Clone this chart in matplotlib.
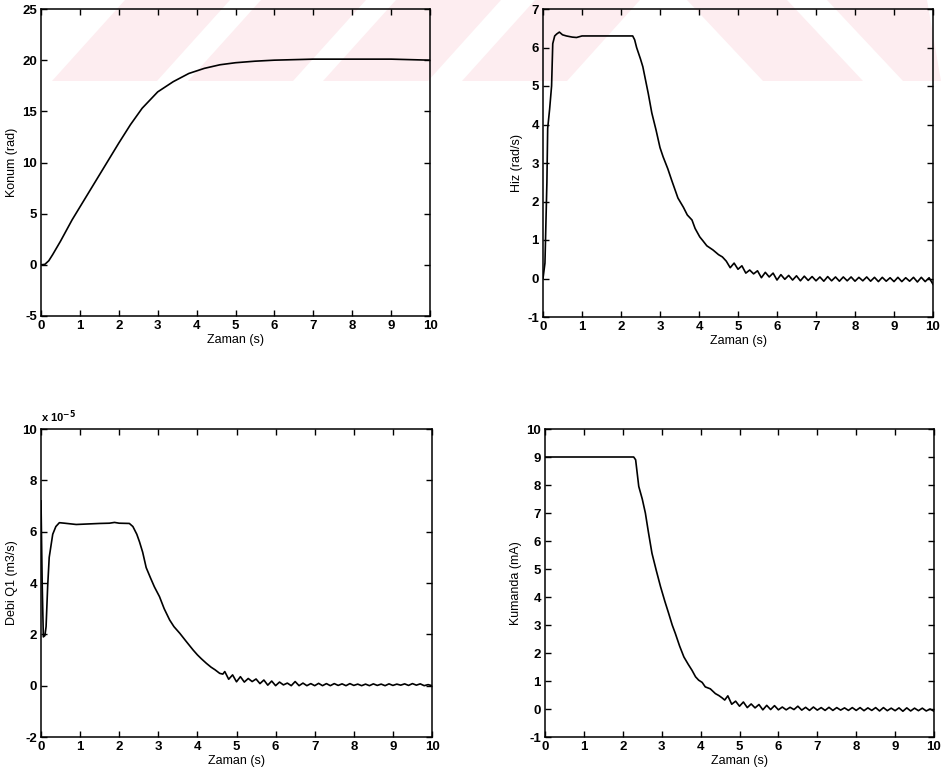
import matplotlib
matplotlib.use("Agg")
import matplotlib.pyplot as plt
from matplotlib.patches import Polygon
from matplotlib.ticker import FuncFormatter

plt.rcParams['font.family'] = ['Liberation Sans', 'DejaVu Sans']
plt.rcParams['font.weight'] = 'bold'
plt.rcParams['font.size'] = 9
plt.rcParams['axes.unicode_minus'] = False

# Konum (rad)
t_konum = [0, 0.1, 0.2, 0.3, 0.5, 0.8, 1.2, 1.6, 2.0, 2.3, 2.6, 3.0, 3.4, 3.8,
           4.2, 4.6, 5.0, 5.5, 6.0, 7.0, 8.0, 9.0, 10.0]
konum = [0, 0.05, 0.4, 1.0, 2.3, 4.4, 6.9, 9.4, 11.9, 13.7, 15.3, 16.9, 17.9, 18.7,
         19.2, 19.55, 19.75, 19.9, 20.0, 20.1, 20.1, 20.1, 20.0]

# Hiz (rad/s)
t_hiz = [0, 0.05, 0.1, 0.12, 0.17, 0.22, 0.25, 0.3, 0.35, 0.42, 0.5, 0.6, 0.75, 0.86,
         1.0, 1.5, 2.0, 2.3, 2.35, 2.4, 2.5, 2.56, 2.7, 2.79, 2.9, 3.0, 3.08, 3.2, 3.3,
         3.46, 3.6, 3.7, 3.82, 3.9, 4.02, 4.1, 4.2, 4.36, 4.5, 4.6,
         4.7, 4.8, 4.9, 5.0, 5.1, 5.2, 5.3, 5.4, 5.5, 5.6, 5.7, 5.8, 5.9, 6.0, 6.1, 6.2,
         6.3, 6.4, 6.5, 6.6, 6.7, 6.8, 6.9, 7.0, 7.1, 7.2, 7.3, 7.4, 7.5, 7.6, 7.7, 7.8,
         7.9, 8.0, 8.1, 8.2, 8.3, 8.4, 8.5, 8.6, 8.7, 8.8, 8.9, 9.0, 9.1, 9.2, 9.3, 9.4,
         9.5, 9.6, 9.7, 9.8, 9.9, 10.0]
hiz = [0, 0.4, 2.5, 3.9, 4.4, 5.0, 6.1, 6.3, 6.35, 6.4, 6.33, 6.3, 6.27, 6.26,
       6.3, 6.3, 6.3, 6.3, 6.2, 6.0, 5.7, 5.5, 4.8, 4.3, 3.85, 3.4, 3.16, 2.85, 2.55,
       2.09, 1.85, 1.65, 1.52, 1.3, 1.08, 0.98, 0.85, 0.74, 0.62, 0.56,
       0.45, 0.28, 0.40, 0.24, 0.33, 0.14, 0.22, 0.12, 0.20, 0.02, 0.16, 0.04, 0.14, -0.04, 0.10, -0.02,
       0.08, -0.04, 0.07, -0.06, 0.06, -0.05, 0.05, -0.06, 0.04, -0.07, 0.05, -0.06, 0.04, -0.07, 0.04, -0.06,
       0.04, -0.07, 0.03, -0.06, 0.04, -0.07, 0.03, -0.08, 0.03, -0.07, 0.02, -0.08, 0.03, -0.08, 0.02, -0.07,
       0.03, -0.09, 0.03, -0.08, 0.02, -0.15]

# Debi Q1 (x 1e-5 m3/s)
t_debi = [0, 0.03, 0.06, 0.1, 0.13, 0.17, 0.21, 0.3, 0.38, 0.47, 0.6, 0.9, 1.2, 1.5,
          1.75, 1.88, 2.0, 2.26, 2.35, 2.45, 2.52, 2.6, 2.69, 2.8, 2.9, 3.03, 3.15, 3.29,
          3.4, 3.55, 3.7, 3.89, 4.0, 4.1, 4.23, 4.35, 4.45, 4.57, 4.65,
          4.7, 4.8, 4.9, 5.0, 5.1, 5.2, 5.3, 5.4, 5.5, 5.6, 5.7, 5.8, 5.9, 6.0, 6.1, 6.2,
          6.3, 6.4, 6.5, 6.6, 6.7, 6.8, 6.9, 7.0, 7.1, 7.2, 7.3, 7.4, 7.5, 7.6, 7.7, 7.8,
          7.9, 8.0, 8.1, 8.2, 8.3, 8.4, 8.5, 8.6, 8.7, 8.8, 8.9, 9.0, 9.1, 9.2, 9.3, 9.4,
          9.5, 9.6, 9.7, 9.8, 9.9, 10.0]
debi = [7.2, 4.0, 1.9, 1.95, 2.3, 3.86, 5.0, 5.9, 6.2, 6.35, 6.33, 6.28, 6.3, 6.32,
        6.33, 6.36, 6.33, 6.32, 6.2, 5.9, 5.6, 5.2, 4.6, 4.2, 3.85, 3.47, 3.0, 2.56,
        2.3, 2.04, 1.75, 1.39, 1.2, 1.05, 0.87, 0.72, 0.62, 0.48, 0.45,
        0.55, 0.25, 0.42, 0.15, 0.35, 0.14, 0.28, 0.16, 0.26, 0.08, 0.22, 0.02, 0.18, 0.0, 0.14, 0.03,
        0.10, 0.0, 0.16, 0.0, 0.10, 0.0, 0.08, 0.0, 0.09, 0.0, 0.08, 0.0, 0.08, 0.01, 0.07, 0.0,
        0.08, 0.01, 0.06, 0.0, 0.06, 0.0, 0.07, 0.01, 0.06, 0.0, 0.07, 0.01, 0.06, 0.02, 0.07, 0.01,
        0.08, 0.02, 0.07, 0.0, 0.04, 0.0]
debi_scale = 1e-5

# Kumanda (mA)
t_kumanda = [0, 2.28, 2.33, 2.41, 2.5, 2.58, 2.66, 2.75, 2.86, 2.97, 3.08, 3.18, 3.27,
             3.35, 3.46, 3.57, 3.68, 3.78, 3.87, 3.95, 4.04, 4.12, 4.25, 4.38, 4.47, 4.55, 4.62,
             4.7, 4.8, 4.9, 5.0, 5.1, 5.2, 5.3, 5.4, 5.5, 5.6, 5.7, 5.8, 5.9, 6.0, 6.1, 6.2,
             6.3, 6.4, 6.5, 6.6, 6.7, 6.8, 6.9, 7.0, 7.1, 7.2, 7.3, 7.4, 7.5, 7.6, 7.7, 7.8,
             7.9, 8.0, 8.1, 8.2, 8.3, 8.4, 8.5, 8.6, 8.7, 8.8, 8.9, 9.0, 9.1, 9.2, 9.3, 9.4,
             9.5, 9.6, 9.7, 9.8, 9.9, 10.0]
kumanda = [9, 9, 8.9, 7.95, 7.5, 7.0, 6.3, 5.56, 4.95, 4.37, 3.85, 3.41, 3.0,
           2.7, 2.25, 1.86, 1.6, 1.38, 1.15, 1.03, 0.95, 0.79, 0.72, 0.55, 0.48, 0.40, 0.32,
           0.47, 0.17, 0.28, 0.10, 0.25, 0.05, 0.18, 0.04, 0.16, -0.03, 0.13, -0.02, 0.12, -0.03, 0.07, -0.03,
           0.06, -0.02, 0.10, -0.04, 0.06, -0.05, 0.07, -0.04, 0.05, -0.05, 0.06, -0.05, 0.05, -0.04, 0.04, -0.05,
           0.05, -0.05, 0.05, -0.06, 0.04, -0.05, 0.05, -0.07, 0.05, -0.06, 0.03, -0.06, 0.04, -0.08, 0.04, -0.07,
           0.03, -0.06, 0.03, -0.07, 0.0, -0.08]

x_ticks = list(range(0, 11))

W, H = 941, 773
fig = plt.figure(figsize=(W / 100, H / 100), dpi=100)
fig.patch.set_facecolor('white')

# faint pink watermark stripes (figure pixels, y down), kept behind the axes
pink = '#fdedf0'
band = 81
for xb in [52, 188, 323, 462]:
    pts = [(xb, band), (xb + 105, band), (xb + 105 + 73, 0), (xb + 73, 0)]
    fig.patches.append(Polygon([(x / W, 1 - y / H) for x, y in pts], closed=True,
                               transform=fig.transFigure, facecolor=pink,
                               edgecolor='none', zorder=-5))
for xt in [687, 827]:
    pts = [(xt, 0), (min(xt + 100, W), 0), (min(xt + 176, W), band), (min(xt + 76, W), band)]
    fig.patches.append(Polygon([(x / W, 1 - y / H) for x, y in pts], closed=True,
                               transform=fig.transFigure, facecolor=pink,
                               edgecolor='none', zorder=-5))


def px_rect(l, t, r, b):
    return [l / W, 1 - b / H, (r - l) / W, (b - t) / H]


def style(ax, ylim, yticks, ylabel):
    ax.set_facecolor('none')
    ax.set_zorder(2)
    ax.set_xlim(0, 10)
    ax.set_ylim(*ylim)
    ax.set_xticks(x_ticks)
    ax.set_yticks(yticks)
    ax.tick_params(direction='in', top=True, right=True, length=4, width=1,
                   labelsize=9.5, pad=3)
    for s in ax.spines.values():
        s.set_linewidth(1.1)
    ax.set_xlabel('Zaman (s)', fontsize=9, labelpad=1)
    ax.set_ylabel(ylabel, fontsize=9, labelpad=3)


ax1 = fig.add_axes(px_rect(41, 9, 430, 316))
ax1.plot(t_konum, konum, color='black', lw=1.2)
style(ax1, (-5, 25), [-5, 0, 5, 10, 15, 20, 25], 'Konum (rad)')

ax2 = fig.add_axes(px_rect(543, 9, 933, 317))
ax2.plot(t_hiz, hiz, color='black', lw=1.2)
style(ax2, (-1, 7), list(range(-1, 8)), 'Hiz (rad/s)')

ax3 = fig.add_axes(px_rect(41, 429, 432, 737))
ax3.plot(t_debi, [v * debi_scale for v in debi], color='black', lw=1.2)
style(ax3, (-2e-5, 10e-5), [-2e-5, 0, 2e-5, 4e-5, 6e-5, 8e-5, 10e-5], 'Debi Q1 (m3/s)')
ax3.yaxis.set_major_formatter(FuncFormatter(lambda v, p: f"{round(v / debi_scale):d}"))
ax3.text(0, 1.012, 'x 10$^{-5}$', transform=ax3.transAxes, fontsize=8,
         ha='left', va='bottom')

ax4 = fig.add_axes(px_rect(545, 429, 934, 737))
ax4.plot(t_kumanda, kumanda, color='black', lw=1.2)
style(ax4, (-1, 10), list(range(-1, 11)), 'Kumanda (mA)')

fig.savefig('out.png', dpi=100)
